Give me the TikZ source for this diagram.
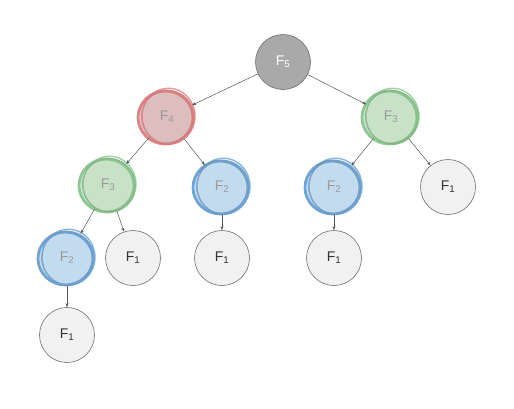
\documentclass[tikz,border=0pt]{standalone}
\usepackage{fontspec}
\setmainfont{Liberation Sans}
\usetikzlibrary{arrows.meta,calc}
\definecolor{plainfill}{HTML}{F1F1F1}
\definecolor{plaindraw}{HTML}{6E6E6E}
\definecolor{rootfill}{HTML}{A9A9A9}
\definecolor{redst}{HTML}{E47373}
\definecolor{redfill}{HTML}{DDBDBD}
\definecolor{greenst}{HTML}{7DC482}
\definecolor{greenfill}{HTML}{C8E2C8}
\definecolor{bluest}{HTML}{5C9BD6}
\definecolor{bluefill}{HTML}{C2DBEF}
\definecolor{lbltxt}{HTML}{999999}
\definecolor{edgecol}{HTML}{555555}
\tikzset{
  fnode/.style={circle, minimum size=55pt, inner sep=0pt, draw=plaindraw, fill=plainfill, line width=0.6pt, text=black!80, font=\fontsize{14}{16}\selectfont},
  rootnode/.style={fnode, fill=rootfill, text=white},
  hl/.style={fnode, text=lbltxt},
  edge/.style={draw=edgecol, line width=0.5pt, -{Stealth[length=4pt,width=3pt]}},
}
\newcommand{\sketchy}[3]{% center, stroke, fill
  \fill[#3] (#1) circle (27.5pt);
  \draw[#2, line width=2.8pt, opacity=0.9] ($(#1)+(-1.5,0.5)$) circle (27.5pt and 26.5pt);
  \draw[#2, line width=1.4pt, opacity=0.75] ($(#1)+(1.5,-0.8)$) circle (26.5pt and 28pt);
  \draw[plaindraw!70, line width=0.5pt] ($(#1)+(1,0)$) circle (26.5pt);
}
\begin{document}
\begin{tikzpicture}[x=1pt,y=-1pt]
\useasboundingbox (0,0) rectangle (514,408);
\coordinate (c5) at (283,62);
\coordinate (c4) at (167,117);
\coordinate (c3r) at (391,117);
\coordinate (c3l) at (108,185);
\coordinate (c2m) at (222,187);
\coordinate (c2r) at (334,187);
\coordinate (c1r) at (448,187);
\coordinate (c2l) at (67,258);
\coordinate (c1a) at (133,258);
\coordinate (c1b) at (222,258);
\coordinate (c1c) at (334,258);
\coordinate (c1d) at (67,335);
\sketchy{c4}{redst}{redfill}
\sketchy{c3r}{greenst}{greenfill}
\sketchy{c3l}{greenst}{greenfill}
\sketchy{c2m}{bluest}{bluefill}
\sketchy{c2r}{bluest}{bluefill}
\sketchy{c2l}{bluest}{bluefill}
\node[rootnode] (n5) at (c5) {F\textsubscript{5}};
\node[hl, draw=none, fill=none] (n4) at (c4) {F\textsubscript{4}};
\node[hl, draw=none, fill=none] (n3r) at (c3r) {F\textsubscript{3}};
\node[hl, draw=none, fill=none] (n3l) at (c3l) {F\textsubscript{3}};
\node[hl, draw=none, fill=none] (n2m) at (c2m) {F\textsubscript{2}};
\node[hl, draw=none, fill=none] (n2r) at (c2r) {F\textsubscript{2}};
\node[hl, draw=none, fill=none] (n2l) at (c2l) {F\textsubscript{2}};
\node[fnode] (n1r) at (c1r) {F\textsubscript{1}};
\node[fnode] (n1a) at (c1a) {F\textsubscript{1}};
\node[fnode] (n1b) at (c1b) {F\textsubscript{1}};
\node[fnode] (n1c) at (c1c) {F\textsubscript{1}};
\node[fnode] (n1d) at (c1d) {F\textsubscript{1}};
\draw[edge] (n5) -- (n4);
\draw[edge] (n5) -- (n3r);
\draw[edge] (n4) -- (n3l);
\draw[edge] (n4) -- (n2m);
\draw[edge] (n3r) -- (n2r);
\draw[edge] (n3r) -- (n1r);
\draw[edge] (n3l) -- (n2l);
\draw[edge] (n3l) -- (n1a);
\draw[edge] (n2m) -- (n1b);
\draw[edge] (n2r) -- (n1c);
\draw[edge] (n2l) -- (n1d);
\end{tikzpicture}
\end{document}
